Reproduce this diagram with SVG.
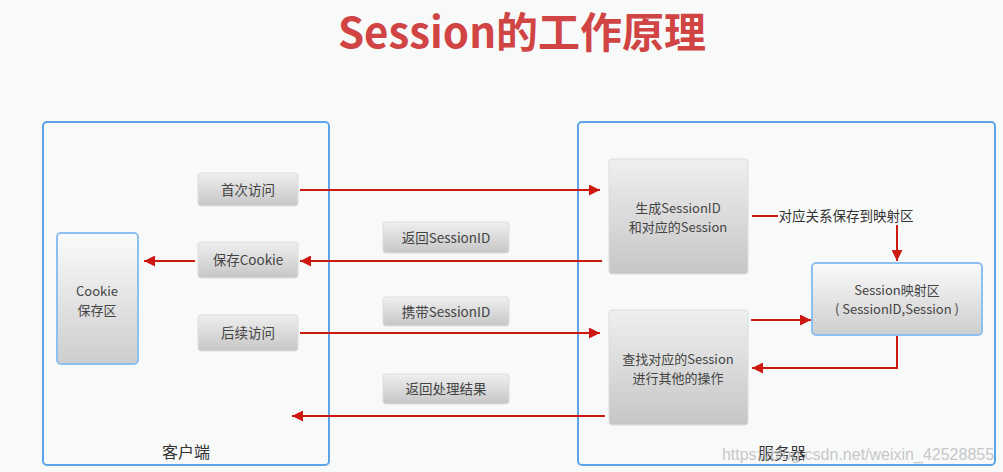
<svg xmlns="http://www.w3.org/2000/svg" width="1003" height="472" viewBox="0 0 1003 472">
<defs>
<linearGradient id="g" x1="0" y1="0" x2="0" y2="1">
<stop offset="0" stop-color="#efefef"/>
<stop offset="1" stop-color="#c6c6c6"/>
</linearGradient>
<linearGradient id="gb" x1="0" y1="0" x2="0" y2="1">
<stop offset="0" stop-color="#fbfbfb"/>
<stop offset="1" stop-color="#cdcdcd"/>
</linearGradient>
<marker id="ah" viewBox="0 0 10 10" refX="10" refY="5" markerWidth="15" markerHeight="11" markerUnits="userSpaceOnUse" orient="auto">
<path d="M0,0 L10,5 L0,10 Z" fill="#cc1a12"/>
</marker>
</defs>
<style>
text{font-family:"Noto Sans CJK SC","Noto Sans",sans-serif;fill:#444;font-size:13.5px;text-anchor:middle}
.frame{fill:none;stroke:#5ca4e8;stroke-width:2}
.box{fill:url(#g);stroke:#dcdcdc;stroke-width:1}
.bbox{fill:url(#gb);stroke:#8cc0ee;stroke-width:2}
.c{fill:none;stroke:#cc1a12;stroke-width:2}
.title{font-size:42px;font-weight:bold;fill:#d04444}
.lbl{font-size:16px;fill:#333}
.two{font-size:13px}
</style>
<rect width="1003" height="472" fill="#f8fafa"/>
<text class="title" x="522" y="48">Session的工作原理</text>

<g id="client">
<rect class="frame" x="43" y="122" width="286" height="343" rx="4"/>
<text class="lbl" x="186" y="458">客户端</text>
</g>
<g id="server">
<rect class="frame" x="578" y="122" width="417" height="343" rx="4"/>
<text class="lbl" x="782" y="459">服务器</text>
</g>

<g id="cookie-store">
<rect class="bbox" x="57" y="233" width="81" height="131" rx="4"/>
<text class="two" x="97" y="296">Cookie</text>
<text class="two" x="97" y="315">保存区</text>
</g>
<g id="first-visit">
<rect class="box" x="198" y="173" width="100" height="33" rx="3"/>
<text x="248" y="195">首次访问</text>
</g>
<g id="save-cookie">
<rect class="box" x="198" y="242" width="100" height="36" rx="3"/>
<text x="248" y="265">保存Cookie</text>
</g>
<g id="later-visit">
<rect class="box" x="198" y="315" width="100" height="36" rx="3"/>
<text x="248" y="338">后续访问</text>
</g>
<g id="return-id">
<rect class="box" x="383" y="222" width="126" height="31" rx="3"/>
<text x="446" y="243">返回SessionID</text>
</g>
<g id="carry-id">
<rect class="box" x="383" y="297" width="126" height="29" rx="3"/>
<text x="446" y="317">携带SessionID</text>
</g>
<g id="return-result">
<rect class="box" x="383" y="374" width="126" height="30" rx="3"/>
<text x="446" y="394">返回处理结果</text>
</g>
<g id="create">
<rect class="box" x="609" y="159" width="139" height="115" rx="3"/>
<text class="two" x="678" y="213">生成SessionID</text>
<text class="two" x="678" y="232">和对应的Session</text>
</g>
<g id="find">
<rect class="box" x="609" y="310" width="139" height="115" rx="3"/>
<text class="two" x="678" y="364">查找对应的Session</text>
<text class="two" x="678" y="383">进行其他的操作</text>
</g>
<g id="session-map">
<rect class="bbox" x="812" y="263" width="170" height="72" rx="4"/>
<text class="two" x="897" y="295">Session映射区</text>
<text class="two" x="897" y="314">( SessionID,Session )</text>
</g>

<g id="connectors">
<line class="c" x1="300" y1="190" x2="600" y2="190" marker-end="url(#ah)"/>
<line class="c" x1="602" y1="261" x2="300" y2="261" marker-end="url(#ah)"/>
<line class="c" x1="195" y1="261" x2="144" y2="261" marker-end="url(#ah)"/>
<line class="c" x1="300" y1="333" x2="600" y2="333" marker-end="url(#ah)"/>
<line class="c" x1="605" y1="416" x2="292" y2="416" marker-end="url(#ah)"/>
<line class="c" x1="752" y1="216" x2="778" y2="216"/>
<text x="846" y="221" style="fill:#333">对应关系保存到映射区</text>
<line class="c" x1="897" y1="225" x2="897" y2="261" marker-end="url(#ah)"/>
<line class="c" x1="751" y1="320" x2="811" y2="320" marker-end="url(#ah)"/>
<polyline class="c" points="897,336 897,368 752,368" marker-end="url(#ah)"/>
</g>
<text x="858" y="460" style="font-family:'Liberation Sans',sans-serif;font-size:16px;fill:#bbbbbb;opacity:0.8">https://blog.csdn.net/weixin_42528855</text>
</svg>
